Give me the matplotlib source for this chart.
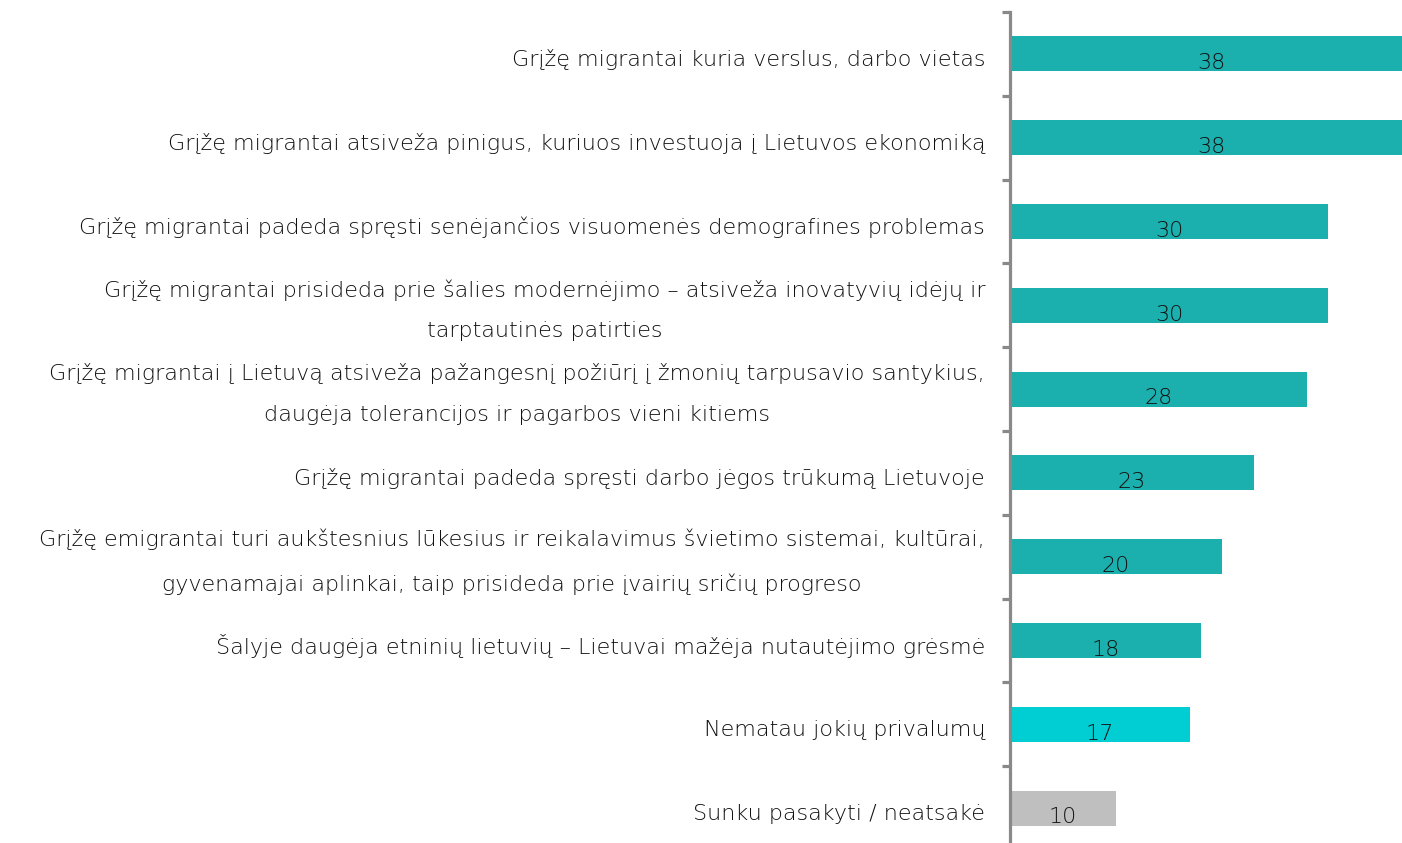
import matplotlib
matplotlib.use("Agg")
import matplotlib.pyplot as plt
import matplotlib.transforms as mtransforms
import numpy as np

plt.rcParams['font.family'] = ['DejaVu Sans']

# categories top to bottom
labels = [
    "Grįžę migrantai kuria verslus, darbo vietas",
    "Grįžę migrantai atsiveža pinigus, kuriuos investuoja į Lietuvos ekonomiką",
    "Grįžę migrantai padeda spręsti senėjančios visuomenės demografines problemas",
    "Grįžę migrantai prisideda prie šalies modernėjimo – atsiveža inovatyvių idėjų ir\ntarptautinės patirties",
    "Grįžę migrantai į Lietuvą atsiveža pažangesnį požiūrį į žmonių tarpusavio santykius,\ndaugėja tolerancijos ir pagarbos vieni kitiems",
    "Grįžę migrantai padeda spręsti darbo jėgos trūkumą Lietuvoje",
    "Grįžę emigrantai turi aukštesnius lūkesius ir reikalavimus švietimo sistemai, kultūrai,\ngyvenamajai aplinkai, taip prisideda prie įvairių sričių progreso",
    "Šalyje daugėja etninių lietuvių – Lietuvai mažėja nutautėjimo grėsmė",
    "Nematau jokių privalumų",
    "Sunku pasakyti / neatsakė",
]
values = [38, 38, 30, 30, 28, 23, 20, 18, 17, 10]
colors = ['#1bb0ae'] * 8 + ['#00ced3', '#bfbfbf']

fig = plt.figure(figsize=(14.02, 8.43), dpi=100)
ax = fig.add_axes([1010 / 1402, -7 / 843, 392 / 1402, 838 / 843])

y = np.arange(len(values))
ax.barh(y, values, height=0.42, color=colors)

for yi, v in zip(y, values):
    ax.text(v / 2, yi + 0.11, str(v), ha='center', va='center',
            fontsize=16, color='#111111', fontweight='light')

# category labels, right aligned left of the axis
trans = mtransforms.blended_transform_factory(ax.transAxes, ax.transData)
trans = trans + mtransforms.ScaledTranslation(-25 / 100, 0, fig.dpi_scale_trans)
for yi, lab in zip(y, labels):
    dy = 0.06 if '\n' in lab else 0.07
    ax.text(0, yi + dy, lab, transform=trans, ha='right', va='center',
            multialignment='center', linespacing=2.3, fontsize=16,
            color='#111111', fontweight='light')

ax.set_xlim(0, 37)
ax.set_ylim(len(values) - 0.5, -0.5)

for s in ['top', 'right', 'bottom']:
    ax.spines[s].set_visible(False)
ax.spines['left'].set_color('#898989')
ax.spines['left'].set_linewidth(2.3)

ax.set_xticks([])
ax.set_yticks([])
ax.set_yticks(np.arange(-0.5, len(values) + 0.5, 1), minor=True)
ax.tick_params(axis='y', which='minor', length=6, width=2.3, color='#898989')

fig.savefig("out.png", dpi=100)
